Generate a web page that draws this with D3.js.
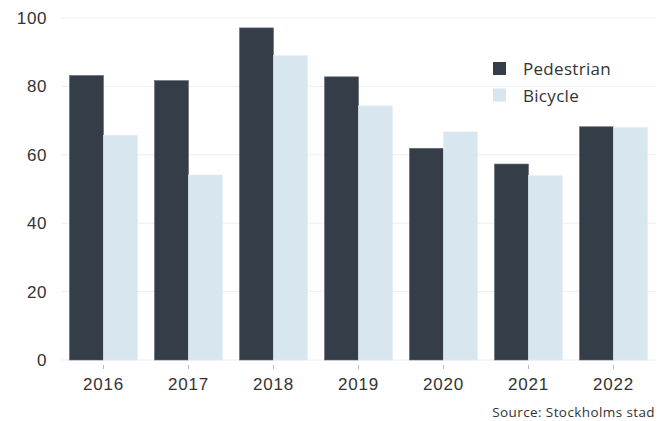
<!DOCTYPE html>
<html>
<head>
<meta charset="utf-8">
<script src="https://cdn.jsdelivr.net/npm/d3@7"></script>
<style>
  body { margin: 0; background: #fff; }
  svg { font-family: "Open Sans", sans-serif; }
</style>
</head>
<body>
<svg width="669" height="421"></svg>
<script>
// data
const years = ["2016", "2017", "2018", "2019", "2020", "2021", "2022"];
const pedestrian = [83.2, 81.7, 97.1, 82.8, 61.9, 57.3, 68.2];
const bicycle = [65.7, 54.1, 89.0, 74.3, 66.7, 53.9, 68.0];
const seriesNames = ["Pedestrian", "Bicycle"];
const yTicks = [0, 20, 40, 60, 80, 100];

const colors = { "Pedestrian": "#343d48", "Bicycle": "#d8e6f0" };

const margin = { top: 18, right: 13, bottom: 61, left: 61 };
const width = 669 - margin.left - margin.right;
const height = 421 - margin.top - margin.bottom;

const svg = d3.select("svg")
  .append("g")
  .attr("transform", `translate(${margin.left},${margin.top})`);

const x0 = d3.scaleBand()
  .domain(years)
  .range([0, width])
  .paddingInner(0.2)
  .paddingOuter(0.1);

const x1 = d3.scaleBand()
  .domain(seriesNames)
  .range([0, x0.bandwidth()]);

const y = d3.scaleLinear()
  .domain([0, 100])
  .range([height, 0]);

// gridlines
svg.append("g")
  .selectAll("line")
  .data(yTicks)
  .enter()
  .append("line")
  .attr("x1", 0)
  .attr("x2", width)
  .attr("y1", d => y(d))
  .attr("y2", d => y(d))
  .attr("stroke", "#eeeeee")
  .attr("stroke-width", 1);

// y axis labels
const yAxis = svg.append("g")
  .call(d3.axisLeft(y).tickValues(yTicks).tickSize(0).tickPadding(14));
yAxis.select(".domain").remove();
yAxis.selectAll("text")
  .style("font-size", "17px")
  .style("letter-spacing", "0.6px")
  .attr("fill", "#333");

// bars
const rows = years.map((yr, i) => ({ year: yr, Pedestrian: pedestrian[i], Bicycle: bicycle[i] }));

const groups = svg.selectAll(".group")
  .data(rows)
  .enter()
  .append("g")
  .attr("class", "group")
  .attr("transform", d => `translate(${x0(d.year)},0)`);

groups.selectAll("rect")
  .data(d => seriesNames.map(s => ({ key: s, value: d[s] })))
  .enter()
  .append("rect")
  .attr("x", d => x1(d.key))
  .attr("width", x1.bandwidth())
  .attr("y", d => y(d.value))
  .attr("height", d => y(0) - y(d.value))
  .attr("fill", d => colors[d.key])
  .attr("stroke", d => d.key === "Pedestrian" ? "#5f6873" : "#e2edf5")
  .attr("stroke-width", 0.6);

// x axis
const xAxis = svg.append("g")
  .attr("transform", `translate(0,${height})`)
  .call(d3.axisBottom(x0).tickSize(4).tickPadding(8).tickSizeOuter(0));
xAxis.select(".domain").remove();
xAxis.selectAll("line")
  .attr("stroke", "#bbb")
  .attr("transform", "translate(0,5)");
xAxis.selectAll("text")
  .style("font-size", "17px")
  .style("letter-spacing", "0.8px")
  .attr("fill", "#333")
  .attr("dy", "1.05em");

// legend
const legend = svg.append("g")
  .attr("transform", `translate(${493 - margin.left},${62 - margin.top})`);

seriesNames.forEach((s, i) => {
  legend.append("rect")
    .attr("x", 0)
    .attr("y", i * 26.5)
    .attr("width", 13)
    .attr("height", 13)
    .attr("fill", colors[s]);
  legend.append("text")
    .attr("x", 30)
    .attr("y", i * 26.5 + 13)
    .style("font-size", "17px")
    .style("letter-spacing", "0.3px")
    .attr("fill", "#333")
    .text(s);
});

// source
d3.select("svg").append("text")
  .attr("x", 655)
  .attr("y", 417)
  .attr("text-anchor", "end")
  .style("font-size", "13.5px")
  .style("letter-spacing", "0.4px")
  .attr("fill", "#333")
  .text("Source: Stockholms stad");
</script>
</body>
</html>
